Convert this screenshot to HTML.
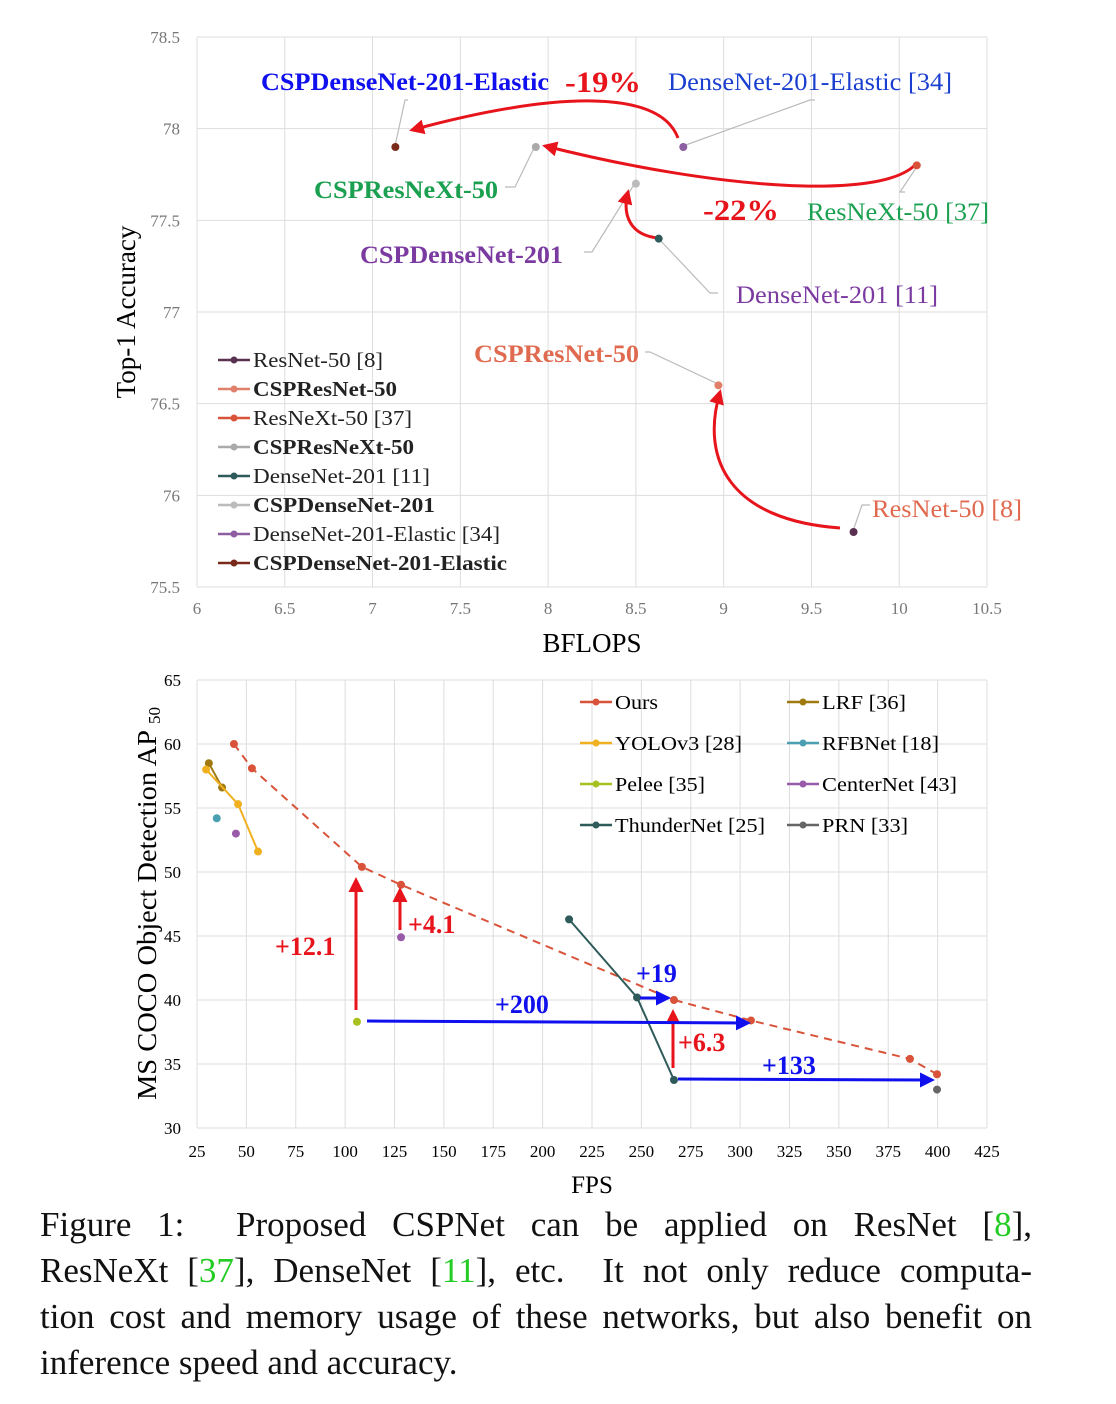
<!DOCTYPE html>
<html><head><meta charset="utf-8">
<style>
body{margin:0;background:#fff;}
svg text{font-family:"Liberation Serif",serif;}
#cap{position:absolute;left:40px;top:1202px;width:992px;font-family:"Liberation Serif",serif;font-size:35px;line-height:46px;color:#111;}
#cap .l{display:block;text-align:justify;text-align-last:justify;white-space:nowrap;}
#cap .last{display:block;}
#cap .g{color:#22cc22;}
</style></head>
<body>
<svg id="s" width="1116" height="1404" style="position:absolute;left:0;top:0">
<defs>
<marker id="ar" viewBox="0 0 10 10" refX="8" refY="5" markerWidth="5" markerHeight="5" orient="auto"><path d="M0,0L10,5L0,10z" fill="#e8141c"/></marker>
<marker id="ab" viewBox="0 0 10 10" refX="8" refY="5" markerWidth="5" markerHeight="5" orient="auto"><path d="M0,0L10,5L0,10z" fill="#1010ee"/></marker>
</defs>
<g id="top"></g>
<g id="bot"></g>
</svg>
<div id="cap"><span class="l" style="white-space:normal">Figure 1:&nbsp; Proposed CSPNet can be applied on ResNet [<span class="g">8</span>],</span><span class="l" style="white-space:normal">ResNeXt [<span class="g">37</span>], DenseNet [<span class="g">11</span>], etc.&nbsp; It not only reduce computa-</span><span class="l" style="white-space:normal">tion cost and memory usage of these networks, but also benefit on</span><span class="last">inference speed and accuracy.</span></div>
<script>
// ---- top chart data ----
const topModels = ["ResNet-50 [8]","CSPResNet-50","ResNeXt-50 [37]","CSPResNeXt-50","DenseNet-201 [11]","CSPDenseNet-201","DenseNet-201-Elastic [34]","CSPDenseNet-201-Elastic"];
const topFlops = [9.74, 8.97, 10.1, 7.93, 8.63, 8.5, 8.77, 7.13];
const topAcc = [75.8, 76.6, 77.8, 77.9, 77.4, 77.7, 77.9, 77.9];
const topColors = ["#5a3050","#e0806a","#d9533a","#aaaaaa","#2f5a5a","#bbbbbb","#8e5ea2","#7a2a1a"];
const topXTicks = [6,6.5,7,7.5,8,8.5,9,9.5,10,10.5];
const topYTicks = [75.5,76,76.5,77,77.5,78,78.5];
// ---- bottom chart data ----
const botSeries = ["Ours","LRF [36]","YOLOv3 [28]","RFBNet [18]","Pelee [35]","CenterNet [43]","ThunderNet [25]","PRN [33]"];
const oursFps = [43.7,52.8,108.5,128.3,266.5,305.5,386,399.7];
const oursAp = [60,58.1,50.4,49,40,38.4,35.4,34.2];
const lrfFps = [31,37.7], lrfAp = [58.5,56.6];
const yoloFps = [29.6,45.8,55.9], yoloAp = [58,55.3,51.6];
const rfbFps = [35], rfbAp = [54.2];
const peleeFps = [106], peleeAp = [38.3];
const centerFps = [44.7,128.3], centerAp = [53,44.9];
const thunderFps = [213.4,247.8,266.5], thunderAp = [46.3,40.2,33.75];
const prnFps = [399.7], prnAp = [33.0];
const botXTicks = [25,50,75,100,125,150,175,200,225,250,275,300,325,350,375,400,425];
const botYTicks = [30,35,40,45,50,55,60,65];

const NS="http://www.w3.org/2000/svg";
function mk(p,t,a,txt){const e=document.createElementNS(NS,t);for(const k in a)e.setAttribute(k,a[k]);if(txt!==undefined)e.textContent=txt;p.appendChild(e);return e;}
const tx=v=>197+(v-6)*(790/4.5), ty=v=>587-(v-75.5)*(550/3);
const T=document.getElementById('top');
let e;
topXTicks.forEach(v=>{e=mk(T,'line',{x1:tx(v),x2:tx(v),y1:37,y2:587,stroke:'#ddd'});
 e=mk(T,'text',{x:tx(v),y:614,'text-anchor':'middle','font-size':17,fill:'#777'},v);});
topYTicks.forEach(v=>{e=mk(T,'line',{x1:197,x2:987,y1:ty(v),y2:ty(v),stroke:'#ddd'});
 e=mk(T,'text',{x:180,y:ty(v)+6,'text-anchor':'end','font-size':17,fill:'#777'},v);});
e=mk(T,'text',{x:592,y:652,'text-anchor':'middle','font-size':27},'BFLOPS');
e=mk(T,'text',{x:0,y:0,transform:'translate(135,312) rotate(-90)','text-anchor':'middle','font-size':27},'Top-1 Accuracy');
const leaders=[[853,531,862,505,870,505],[718,384,650,352,645,352],[918,165,900,192,905,192],[535,146,515,187,505,187],[658,238,710,293,718,293],[635,183,592,252,584,252],[683,146,810,100,815,100],[395,146,405,100,408,100]];
leaders.forEach(p=>{e=mk(T,'polyline',{points:p.join(' '),fill:'none',stroke:'#bbb','stroke-width':1.2});});
const arrows=["M840,528 C730,520 700,460 720,392","M658,238 C630,235 622,215 628,192","M915,165 C880,200 720,190 545,146","M678,138 C660,90 560,90 412,130"];
arrows.forEach(d=>{e=mk(T,'path',{d,fill:'none',stroke:'#e8141c','stroke-width':3,'marker-end':'url(#ar)'});});
topModels.forEach((m,i)=>{e=mk(T,'circle',{cx:tx(topFlops[i]),cy:ty(topAcc[i]),r:4,fill:topColors[i]});});
const labs=[["CSPDenseNet-201-Elastic",261,90,"#1010ee",true,288],["-19%",565,92,"#e8141c",true,76,30],["DenseNet-201-Elastic  [34]",668,90,"#1a3fd0",false,284],["CSPResNeXt-50",314,198,"#1aa050",true,184],["-22%",703,220,"#e8141c",true,76,30],["ResNeXt-50  [37]",807,220,"#1aa050",false,182],["CSPDenseNet-201",360,263,"#7a3aa0",true,203],["DenseNet-201  [11]",736,303,"#7a3aa0",false,202],["CSPResNet-50",474,362,"#e06a50",true,165],["ResNet-50  [8]",872,517,"#e06a50",false,150]];
labs.forEach(l=>{e=mk(T,'text',{x:l[1],y:l[2],'font-size':l[6]||25,fill:l[3],'font-weight':l[4]?'bold':'normal','xml:space':'preserve',textLength:l[5],lengthAdjust:'spacingAndGlyphs'},l[0]);});
const legW=[130,144,159,161,177,182,247,254];
topModels.forEach((m,i)=>{const y=360+i*29;
 e=mk(T,'line',{x1:218,x2:250,y1:y,y2:y,stroke:topColors[i],'stroke-width':2.5});
 e=mk(T,'circle',{cx:234,cy:y,r:3.5,fill:topColors[i]});
 e=mk(T,'text',{x:253,y:y+7,'font-size':21,'font-weight':m.startsWith('CSP')?'bold':'normal',fill:'#222',textLength:legW[i],lengthAdjust:'spacingAndGlyphs'},m);});
// bottom chart
const bx=v=>197+(v-25)*(790/400), by=v=>1128-(v-30)*(448/35);
const B=document.getElementById('bot');
botXTicks.forEach(v=>{e=mk(B,'line',{x1:bx(v),x2:bx(v),y1:680,y2:1128,stroke:'#ddd'});
 e=mk(B,'text',{x:bx(v),y:1157,'text-anchor':'middle','font-size':17},v);});
botYTicks.forEach(v=>{e=mk(B,'line',{x1:197,x2:987,y1:by(v),y2:by(v),stroke:'#ddd'});
 e=mk(B,'text',{x:181,y:by(v)+6,'text-anchor':'end','font-size':17},v);});
e=mk(B,'text',{x:592,y:1193,'text-anchor':'middle','font-size':25},'FPS');
e=mk(B,'text',{x:0,y:0,transform:'translate(156,1100) rotate(-90)','font-size':27,textLength:370,lengthAdjust:'spacingAndGlyphs'},'MS COCO Object Detection AP');
e=mk(B,'text',{x:0,y:0,transform:'translate(160,724) rotate(-90)','font-size':17},'50');
const cols={"Ours":"#d9533a","LRF [36]":"#a07a10","YOLOv3 [28]":"#f0b020","RFBNet [18]":"#4aa0b0","Pelee [35]":"#a8c020","CenterNet [43]":"#9a5aaa","ThunderNet [25]":"#2f5a5a","PRN [33]":"#666"};
function series(name,xs,ys,dash,noLine){const c=cols[name];const pts=xs.map((x,i)=>bx(x)+','+by(ys[i])).join(' ');
 if(xs.length>1&&!noLine){e=mk(B,'polyline',{points:pts,fill:'none',stroke:c,'stroke-width':2,'stroke-dasharray':dash||''});}
 xs.forEach((x,i)=>{e=mk(B,'circle',{cx:bx(x),cy:by(ys[i]),r:4,fill:c});});}
series("Ours",oursFps,oursAp,"8,6");
series("LRF [36]",lrfFps,lrfAp);series("YOLOv3 [28]",yoloFps,yoloAp);series("RFBNet [18]",rfbFps,rfbAp);
series("Pelee [35]",peleeFps,peleeAp);series("CenterNet [43]",centerFps,centerAp,'',true);series("ThunderNet [25]",thunderFps,thunderAp);series("PRN [33]",prnFps,prnAp);
const barr=[["M356,1010 L356,880","ar"],["M400,930 L400,890","ar"],["M673,1068 L673,1012","ar"],["M367,1021 L748,1023","ab"],["M640,998 L668,998","ab"],["M678,1079 L932,1080","ab"]];
barr.forEach(a=>{e=mk(B,'path',{d:a[0],stroke:a[1]=='ar'?'#e8141c':'#1010ee','stroke-width':3,fill:'none','marker-end':'url(#'+a[1]+')'});});
const blabs=[["+12.1",275,955,"#e8141c"],["+4.1",408,933,"#e8141c"],["+19",636,982,"#1010ee"],["+200",495,1013,"#1010ee"],["+6.3",678,1051,"#e8141c"],["+133",762,1074,"#1010ee"]];
blabs.forEach(l=>{e=mk(B,'text',{x:l[1],y:l[2],'font-size':26,'font-weight':'bold',fill:l[3]},l[0]);});
const bLegW=[43,84,127,117,90,135,150,86];
botSeries.forEach((n,i)=>{const col=i%2, row=Math.floor(i/2);const x0=col?787:580, y=702+row*41;
 e=mk(B,'line',{x1:x0,x2:x0+32,y1:y,y2:y,stroke:cols[n],'stroke-width':2.5});
 e=mk(B,'circle',{cx:x0+16,cy:y,r:3.5,fill:cols[n]});
 e=mk(B,'text',{x:x0+35,y:y+7,'font-size':20,textLength:bLegW[i],lengthAdjust:'spacingAndGlyphs'},n);});
</script>
</body></html>
